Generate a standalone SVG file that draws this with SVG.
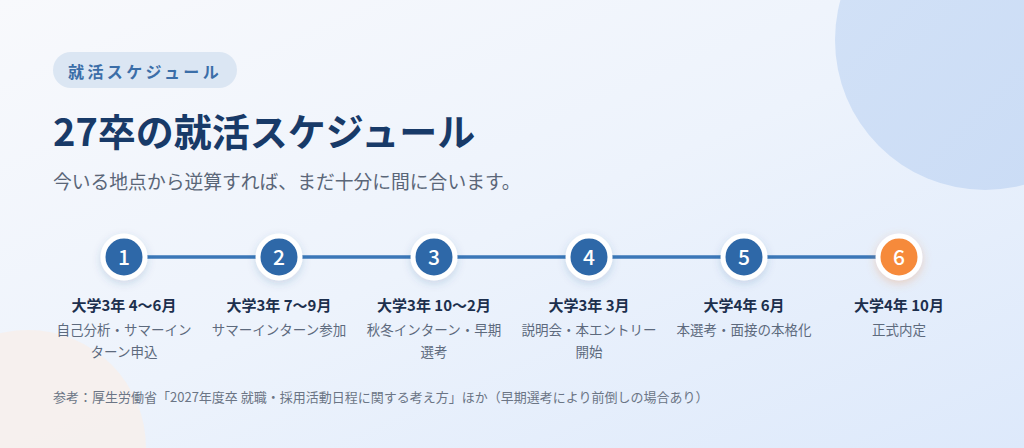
<svg xmlns="http://www.w3.org/2000/svg" width="1024" height="448" viewBox="0 0 1024 448">
<defs>
<linearGradient id="bg" x1="0" y1="0" x2="1" y2="1">
<stop offset="0" stop-color="#f8f9fc"/>
<stop offset="0.5" stop-color="#edf3fc"/>
<stop offset="1" stop-color="#dde9fb"/>
</linearGradient>
<linearGradient id="blob" x1="0" y1="0" x2="1" y2="1">
<stop offset="0" stop-color="#d3e2f7"/>
<stop offset="1" stop-color="#c9dbf5"/>
</linearGradient>
<filter id="sh" x="-50%" y="-50%" width="200%" height="200%">
<feDropShadow dx="0" dy="3" stdDeviation="4" flood-color="#1f4f8a" flood-opacity="0.18"/>
</filter>
<filter id="sho" x="-50%" y="-50%" width="200%" height="200%">
<feDropShadow dx="0" dy="3" stdDeviation="5" flood-color="#f08a3c" flood-opacity="0.3"/>
</filter>
<style>
text{font-family:"Noto Sans CJK JP","Noto Sans",sans-serif}
.num{font-size:21px;font-weight:500;fill:#ffffff;text-anchor:middle}
.date{font-size:15px;font-weight:700;fill:#1c2f4d;text-anchor:middle}
.desc{font-size:13.5px;fill:#5d6a7d;text-anchor:middle}
.step{fill:#2f68a8;stroke:#ffffff;stroke-width:5}
.last{fill:#f68a3b;stroke:#ffffff;stroke-width:5}
</style>
</defs>
<rect width="1024" height="448" fill="url(#bg)"/>
<circle cx="985" cy="40" r="150" fill="url(#blob)"/>
<circle cx="28" cy="448" r="118" fill="#f6efec" opacity="0.9"/>
<g id="header">
<rect x="53" y="52" width="184" height="36" rx="18" fill="#dbe6f3"/>
<text x="68" y="78" font-size="16" font-weight="700" fill="#3b6ea8" letter-spacing="3.4">就活スケジュール</text>
<text x="53" y="146" font-size="38" font-weight="700" fill="#183a68">27卒の就活スケジュール</text>
<text x="53" y="189" font-size="18.8" fill="#5a6678">今いる地点から逆算すれば、まだ十分に間に合います。</text>
</g>
<g id="connectors">
<line x1="124" y1="257" x2="899" y2="257" stroke="#3b77b8" stroke-width="3.5"/>
</g>
<g id="step1">
<circle cx="124" cy="257" r="21" class="step" filter="url(#sh)"/>
<text x="124" y="264.5" class="num">1</text>
<text x="124" y="311" class="date">大学3年 4〜6月</text>
<text x="124" y="335" class="desc">自己分析・サマーイン</text>
<text x="124" y="357" class="desc">ターン申込</text>
</g>
<g id="step2">
<circle cx="279" cy="257" r="21" class="step" filter="url(#sh)"/>
<text x="279" y="264.5" class="num">2</text>
<text x="279" y="311" class="date">大学3年 7〜9月</text>
<text x="279" y="335" class="desc">サマーインターン参加</text>
</g>
<g id="step3">
<circle cx="434" cy="257" r="21" class="step" filter="url(#sh)"/>
<text x="434" y="264.5" class="num">3</text>
<text x="434" y="311" class="date">大学3年 10〜2月</text>
<text x="434" y="335" class="desc">秋冬インターン・早期</text>
<text x="434" y="357" class="desc">選考</text>
</g>
<g id="step4">
<circle cx="589" cy="257" r="21" class="step" filter="url(#sh)"/>
<text x="589" y="264.5" class="num">4</text>
<text x="589" y="311" class="date">大学3年 3月</text>
<text x="589" y="335" class="desc">説明会・本エントリー</text>
<text x="589" y="357" class="desc">開始</text>
</g>
<g id="step5">
<circle cx="744" cy="257" r="21" class="step" filter="url(#sh)"/>
<text x="744" y="264.5" class="num">5</text>
<text x="744" y="311" class="date">大学4年 6月</text>
<text x="744" y="335" class="desc">本選考・面接の本格化</text>
</g>
<g id="step6">
<circle cx="899" cy="257" r="21" class="last" filter="url(#sho)"/>
<text x="899" y="264.5" class="num">6</text>
<text x="899" y="311" class="date">大学4年 10月</text>
<text x="899" y="335" class="desc">正式内定</text>
</g>
<g id="footer">
<text x="53" y="402" font-size="13" fill="#6b7585">参考：厚生労働省「2027年度卒 就職・採用活動日程に関する考え方」ほか（早期選考により前倒しの場合あり）</text>
</g>
</svg>
